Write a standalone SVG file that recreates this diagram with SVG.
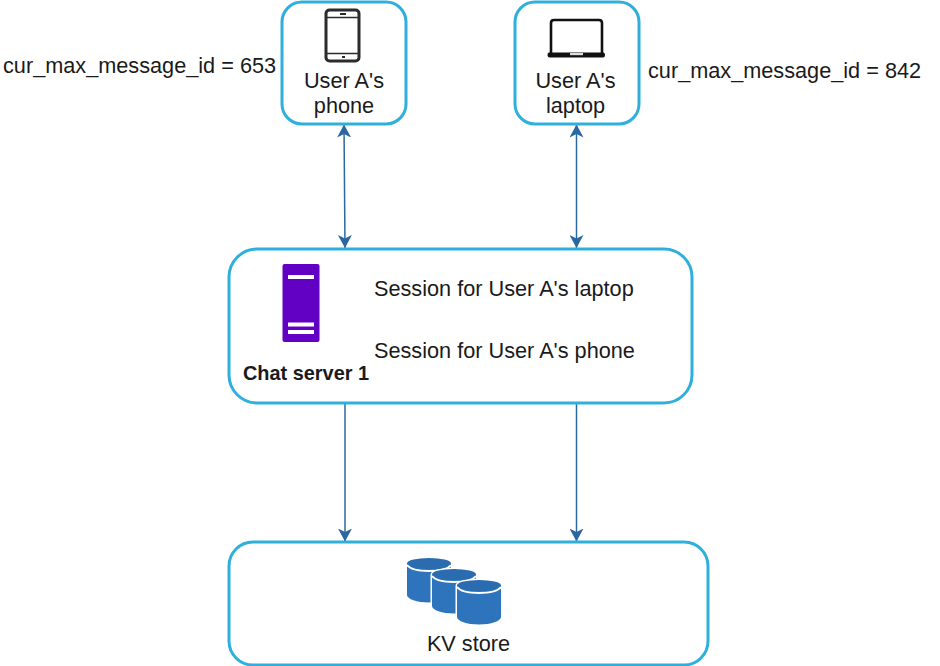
<svg xmlns="http://www.w3.org/2000/svg" width="940" height="666" viewBox="0 0 940 666">
<style>
text{font-family:"Liberation Sans",Arial,sans-serif;font-size:21.7px;fill:#1a1a1a}
.box{fill:#fff;stroke:#2fb0dc;stroke-width:3}
.c{stroke:#2b689f;stroke-width:1.500;fill:none}
.m{text-anchor:middle}
</style>
<defs>
<marker id="a" viewBox="0 0 14 14" refX="13" refY="7" markerUnits="userSpaceOnUse" markerWidth="14" markerHeight="14" orient="auto-start-reverse"><path d="M0 0L13 7L0 14L3.500 7Z" fill="#2b689f"/></marker>
<g id="cyl"><path d="M0 5.500V37C0 41 10 44.500 22 44.500S44 41 44 37V5.500A22 5.500 0 0 0 0 5.500Z" fill="#fff" stroke="#fff" stroke-width="3"/><path d="M0 6V37C0 41 10 44.500 22 44.500S44 41 44 37V6Z" fill="#2e74bd"/><ellipse cx="22" cy="5.500" rx="22" ry="5.500" fill="#2b6cb0"/><path d="M0 7C3 11 12 13 22 13S41 11 44 7" fill="none" stroke="#fff" stroke-width="2"/></g>
</defs>
<rect width="940" height="666" fill="#fff"/>
<g id="connectors">
<path class="c" d="M344 124.500L345 248" marker-start="url(#a)" marker-end="url(#a)"/>
<path class="c" d="M576.500 124.500V248" marker-start="url(#a)" marker-end="url(#a)"/>
<path class="c" d="M345 404V541.500" marker-end="url(#a)"/>
<path class="c" d="M576.500 404V541.500" marker-end="url(#a)"/>
</g>
<g id="phone">
<rect class="box" x="282" y="2" width="124" height="122" rx="20"/>
<rect x="326" y="10" width="33" height="51" rx="3.500" fill="none" stroke="#2b2b2b" stroke-width="3"/>
<path d="M327 17.500H358M327 53.500H358" stroke="#2b2b2b" stroke-width="1.500"/>
<path d="M340 14H346M342 57H345" stroke="#2b2b2b" stroke-width="1.800"/>
<text class="m" x="344" y="88">User A's</text>
<text class="m" x="344" y="113">phone</text>
</g>
<g id="laptop">
<rect class="box" x="515" y="2" width="124" height="122" rx="20"/>
<path d="M551 53V23Q551 20 554 20H599Q602 20 602 23V53" fill="none" stroke="#111" stroke-width="2.600"/>
<path d="M549 52.500H603.500Q605 52.500 605 55Q605 57.500 603 57.500H550Q547.500 57.500 547.500 55Q547.500 52.500 549 52.500Z" fill="#111"/>
<rect x="570" y="53" width="13" height="2.200" fill="#ddd"/>
<text class="m" x="575.500" y="88">User A's</text>
<text class="m" x="575.500" y="113">laptop</text>
</g>
<g id="label-phone"><text x="3" y="72.500">cur_max_message_id = 653</text></g>
<g id="label-laptop"><text x="648" y="77.500">cur_max_message_id = 842</text></g>
<g id="chat-server">
<rect class="box" x="229" y="249" width="463" height="154" rx="28"/>
<rect x="282.500" y="264" width="37" height="78" rx="2" fill="#6200c4"/>
<rect x="288" y="275" width="26" height="4" fill="#fff"/>
<rect x="288" y="322.500" width="26" height="4" fill="#fff"/>
<rect x="288" y="330" width="26" height="4" fill="#fff"/>
<text x="243" y="380" style="font-weight:700;font-size:19.900px">Chat server 1</text>
<text x="374" y="295.500">Session for User A's laptop</text>
<text x="374" y="357.500">Session for User A's phone</text>
</g>
<g id="kv-store">
<rect class="box" x="229" y="542" width="479" height="123" rx="24"/>
<use href="#cyl" x="407" y="558"/>
<use href="#cyl" x="432" y="569"/>
<use href="#cyl" x="457" y="580"/>
<text class="m" x="468.500" y="650.500">KV store</text>
</g>
</svg>
